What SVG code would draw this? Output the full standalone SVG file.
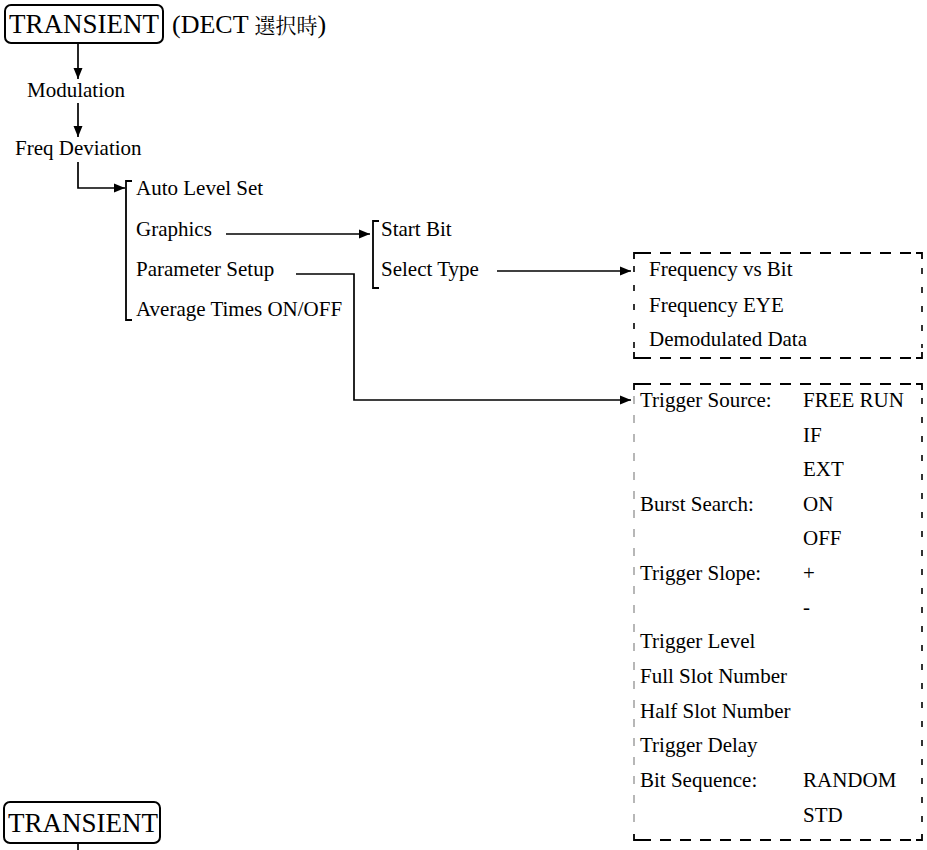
<svg xmlns="http://www.w3.org/2000/svg" width="927" height="850" viewBox="0 0 927 850">
<style>
text{font-family:'Liberation Serif','Times New Roman',Times,serif;fill:#000}
.t{font-size:21px}
.big{font-size:27px}
.cjk{font-family:'Noto Serif CJK JP','Noto Sans CJK JP',serif}
.ln{stroke:#000;stroke-width:1.7;fill:none}
.br{stroke:#000;stroke-width:1.8;fill:none}
.box{stroke:#000;stroke-width:2;fill:#fff}
.dh{stroke:#000;stroke-width:2;stroke-dasharray:11 9;fill:none}
.dv{stroke:#000;stroke-width:1.6;stroke-dasharray:6 13;fill:none}
.dvg{stroke:#888;stroke-width:1.2;stroke-dasharray:8 11;fill:none}
.corner{stroke:#000;stroke-width:1.8;fill:none}
</style>
<defs>
<marker id="ah" markerWidth="12" markerHeight="10" refX="11" refY="5" orient="auto" markerUnits="userSpaceOnUse">
<path d="M0,0.5 L11,5 L0,9.5 Z" fill="#000"/>
</marker>
</defs>

<g id="connectors">
<line class="ln" x1="78" y1="44" x2="78" y2="79" marker-end="url(#ah)"/>
<line class="ln" x1="78" y1="103" x2="78" y2="137" marker-end="url(#ah)"/>
<polyline class="ln" points="78,162 78,188 125,188" marker-end="url(#ah)"/>
<line class="ln" x1="226" y1="234" x2="370" y2="234" marker-end="url(#ah)"/>
<polyline class="ln" points="296,274 354,274 354,400 631,400" marker-end="url(#ah)"/>
<line class="ln" x1="497" y1="271" x2="631" y2="271" marker-end="url(#ah)"/>
<line class="ln" x1="78" y1="843" x2="78" y2="850"/>
</g>

<g id="transient-top">
<rect class="box" x="5" y="5" width="158" height="38" rx="6"/>
<text class="big" x="9" y="33">TRANSIENT</text>
</g>
<g id="dect-note">
<text x="172" y="33" font-size="26">(DECT <tspan class="cjk" font-size="21">選択時</tspan>)</text>
</g>

<g id="modulation"><text class="t" x="27" y="97">Modulation</text></g>
<g id="freq-deviation"><text class="t" x="15" y="155">Freq Deviation</text></g>

<g id="menu1">
<polyline class="br" points="132,181 126,181 126,320 132,320"/>
<text class="t" x="136" y="195">Auto Level Set</text>
<text class="t" x="136" y="236">Graphics</text>
<text class="t" x="136" y="276">Parameter Setup</text>
<text class="t" x="136" y="316">Average Times ON/OFF</text>
</g>

<g id="menu-graphics">
<polyline class="br" points="379,221 373,221 373,288 379,288"/>
<text class="t" x="381" y="236">Start Bit</text>
<text class="t" x="381" y="276">Select Type</text>
</g>

<g id="select-type-box">
<line class="dh" x1="640" y1="253" x2="916" y2="253"/>
<line class="dh" x1="640" y1="358" x2="916" y2="358"/>
<polyline class="corner" points="634,259 634,253 640,253"/>
<polyline class="corner" points="916,253 922,253 922,259"/>
<polyline class="corner" points="634,352 634,358 640,358"/>
<polyline class="corner" points="916,358 922,358 922,352"/>
<line class="dv" x1="634" y1="266" x2="634" y2="348"/>
<line class="dv" x1="922" y1="268" x2="922" y2="348"/>
<text class="t" x="649" y="276">Frequency vs Bit</text>
<text class="t" x="649" y="312">Frequency EYE</text>
<text class="t" x="649" y="346">Demodulated Data</text>
</g>

<g id="parameter-box">
<line class="dh" x1="640" y1="384" x2="916" y2="384"/>
<line class="dh" x1="640" y1="840" x2="916" y2="840"/>
<polyline class="corner" points="634,390 634,384 640,384" stroke="#888"/>
<polyline class="corner" points="916,384 922,384 922,390"/>
<polyline class="corner" points="634,834 634,840 640,840"/>
<polyline class="corner" points="916,840 922,840 922,834"/>
<line class="dvg" x1="634" y1="396" x2="634" y2="830"/>
<line class="dv" x1="922" y1="398" x2="922" y2="830"/>
<text class="t" x="640" y="407">Trigger Source:</text>
<text class="t" x="803" y="407">FREE RUN</text>
<text class="t" x="803" y="442">IF</text>
<text class="t" x="803" y="476">EXT</text>
<text class="t" x="640" y="511">Burst Search:</text>
<text class="t" x="803" y="511">ON</text>
<text class="t" x="803" y="545">OFF</text>
<text class="t" x="640" y="580">Trigger Slope:</text>
<text class="t" x="803" y="580">+</text>
<text class="t" x="803" y="614">-</text>
<text class="t" x="640" y="648">Trigger Level</text>
<text class="t" x="640" y="683">Full Slot Number</text>
<text class="t" x="640" y="718">Half Slot Number</text>
<text class="t" x="640" y="752">Trigger Delay</text>
<text class="t" x="640" y="787">Bit Sequence:</text>
<text class="t" x="803" y="787">RANDOM</text>
<text class="t" x="803" y="822">STD</text>
</g>

<g id="transient-bottom">
<rect class="box" x="4" y="802" width="156" height="41" rx="6"/>
<text class="big" x="8" y="832">TRANSIENT</text>
</g>
</svg>
